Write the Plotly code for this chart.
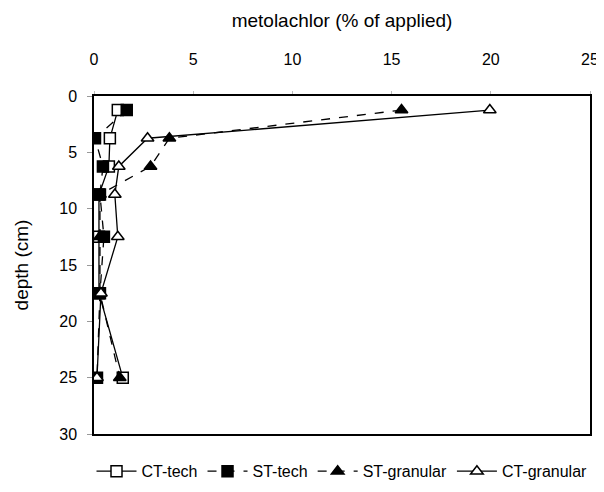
import plotly.graph_objects as go

depth = [1.25, 3.75, 6.25, 8.75, 12.5, 17.5, 25]
ct_tech = [1.2, 0.8, 0.75, 0.25, 0.25, 0.25, 1.45]
st_tech = [1.65, 0.05, 0.45, 0.3, 0.5, 0.3, 0.15]
st_granular = [15.5, 3.8, 2.85, 0.3, 0.3, 0.3, 1.3]
ct_granular = [19.95, 2.7, 1.25, 1.05, 1.2, 0.35, 0.15]

series = [
    ("CT-tech", ct_tech, "solid", "square", "white"),
    ("ST-tech", st_tech, "dash", "square", "black"),
    ("ST-granular", st_granular, "dash", "triangle-up", "black"),
    ("CT-granular", ct_granular, "solid", "triangle-up", "white"),
]

fig = go.Figure()
for name, vals, dash, sym, fill in series:
    fig.add_trace(go.Scatter(
        x=vals, y=depth, name=name, mode="lines+markers",
        line=dict(color="black", width=1.3, dash=dash),
        marker=dict(symbol=sym, size=11, color=fill,
                    line=dict(color="black", width=1.5)),
    ))

font = "Liberation Sans, Arial, sans-serif"
fig.update_layout(
    width=604, height=492,
    margin=dict(l=84, r=22, t=87, b=62),
    plot_bgcolor="white", paper_bgcolor="white",
    font=dict(family=font, size=16, color="black"),
    showlegend=True,
    legend=dict(orientation="h", x=0.5, xanchor="center", y=-0.06, yanchor="top",
                font=dict(size=16), itemwidth=40, tracegroupgap=0),
    xaxis=dict(side="top", range=[0, 25], dtick=5, showgrid=False, zeroline=False,
               showline=True, mirror=True, linecolor="black", linewidth=1.5,
               ticks="outside", ticklen=3, tickcolor="#bbbbbb",
               ticklabelstandoff=20,
               title=dict(text="metolachlor (% of applied)", standoff=18)),
    yaxis=dict(range=[30, 0], dtick=5, showgrid=False, zeroline=False,
               showline=True, mirror=True, linecolor="black", linewidth=1.5,
               ticks="outside", ticklen=5, tickcolor="#999999",
               ticklabelstandoff=7,
               title=dict(text="depth (cm)", standoff=26)),
)

fig.write_html("out.html")
